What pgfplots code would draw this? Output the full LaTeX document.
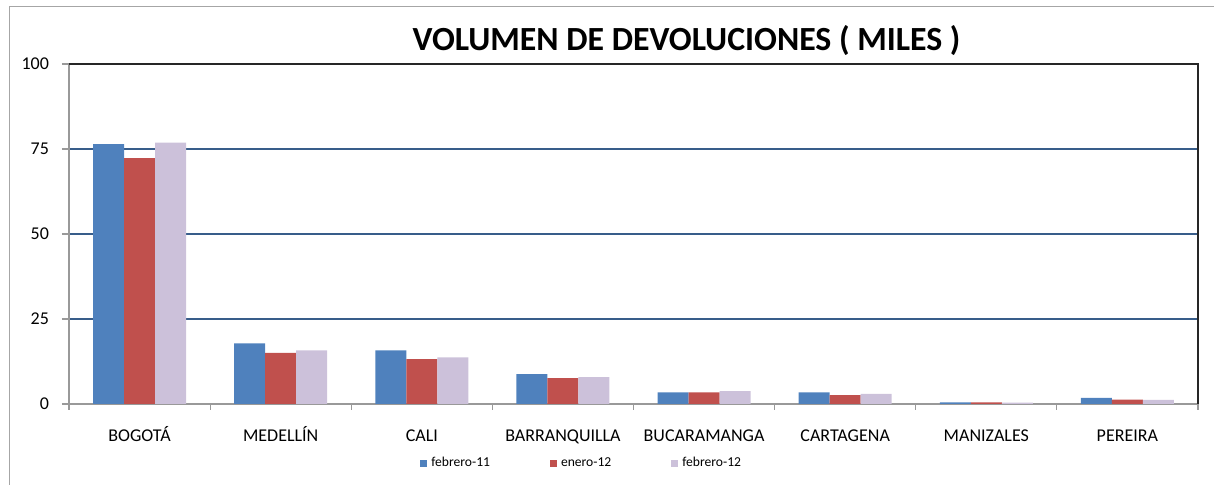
\documentclass[border=0pt]{standalone}
\usepackage{pgfplots}
\pgfplotsset{compat=1.18}
\usepackage{fontspec}
\setmainfont{Carlito}

\definecolor{serA}{HTML}{4F81BD}
\definecolor{serB}{HTML}{C0504D}
\definecolor{serC}{HTML}{CCC1DA}
\definecolor{gridc}{HTML}{385D8A}

\begin{document}
\begin{tikzpicture}
\begin{axis}[
    at={(0,0)}, anchor=south west,
    scale only axis,
    width=564.5pt, height=170pt,
    ybar=0pt, bar width=15.5pt,
    xmin=-0.5, xmax=7.5,
    ymin=0, ymax=100,
    axis x line*=bottom, axis y line*=left,
    axis line style={gray!80, line width=0.9pt, -},
    xtick={0,...,7},
    xticklabels={BOGOTÁ, MEDELLÍN, CALI, BARRANQUILLA, BUCARAMANGA, CARTAGENA, MANIZALES, PEREIRA},
    x tick style={draw=none},
    extra x ticks={-0.5,0.5,1.5,2.5,3.5,4.5,5.5,6.5,7.5},
    extra x tick labels={},
    extra x tick style={tick align=outside, major tick length=3pt, grid=none,
        x tick style={draw=gray!80, line width=0.6pt}},
    xticklabel style={font=\fontsize{9}{10}\selectfont, anchor=base,
        text height=7pt, text depth=2pt, yshift=-15.5pt},
    ytick={0,25,50,75,100},
    y tick style={gray!80, line width=0.6pt},
    tick align=outside, major tick length=3.5pt,
    yticklabel style={font=\fontsize{9}{10}\selectfont, xshift=-3pt},
    /pgf/number format/assume math mode=true,
    ymajorgrids,
    grid style={gridc, line width=0.8pt},
    clip=false,
    legend columns=3,
    legend style={at={(rel axis cs:0.455,-0.174)}, anchor=center, draw=none,
        font=\fontsize{6.8}{7}\selectfont, fill=none,
        /tikz/every even column/.append style={column sep=28pt}},
    legend image code/.code={\fill[#1] (0pt,-1.75pt) rectangle (3.5pt,1.75pt);},
]
\addplot[fill=serA, draw=none] coordinates {
    (0,76.4) (1,17.8) (2,15.8) (3,8.8) (4,3.4) (5,3.4) (6,0.5) (7,1.8)};
\addplot[fill=serB, draw=none] coordinates {
    (0,72.3) (1,15.0) (2,13.2) (3,7.6) (4,3.4) (5,2.6) (6,0.5) (7,1.3)};
\addplot[fill=serC, draw=none] coordinates {
    (0,76.9) (1,15.8) (2,13.7) (3,7.9) (4,3.8) (5,3.0) (6,0.4) (7,1.2)};
\legend{febrero-11, enero-12, febrero-12}

\draw[black!85, line width=0.9pt] (rel axis cs:0,1) -- (rel axis cs:1,1) -- (rel axis cs:1,0);
\node[font=\bfseries\fontsize{16.9}{18}\selectfont] at (rel axis cs:0.547,1.068)
    {VOLUMEN DE DEVOLUCIONES ( MILES )};
\end{axis}
\draw[gray!70, line width=0.8pt] (-29.75pt,-60pt) -- (-29.75pt,198.75pt) -- (620pt,198.75pt);
\pgfresetboundingbox
\path[use as bounding box] (-34.5pt,-40.5pt) rectangle (572.5pt,202pt);
\end{tikzpicture}
\end{document}
